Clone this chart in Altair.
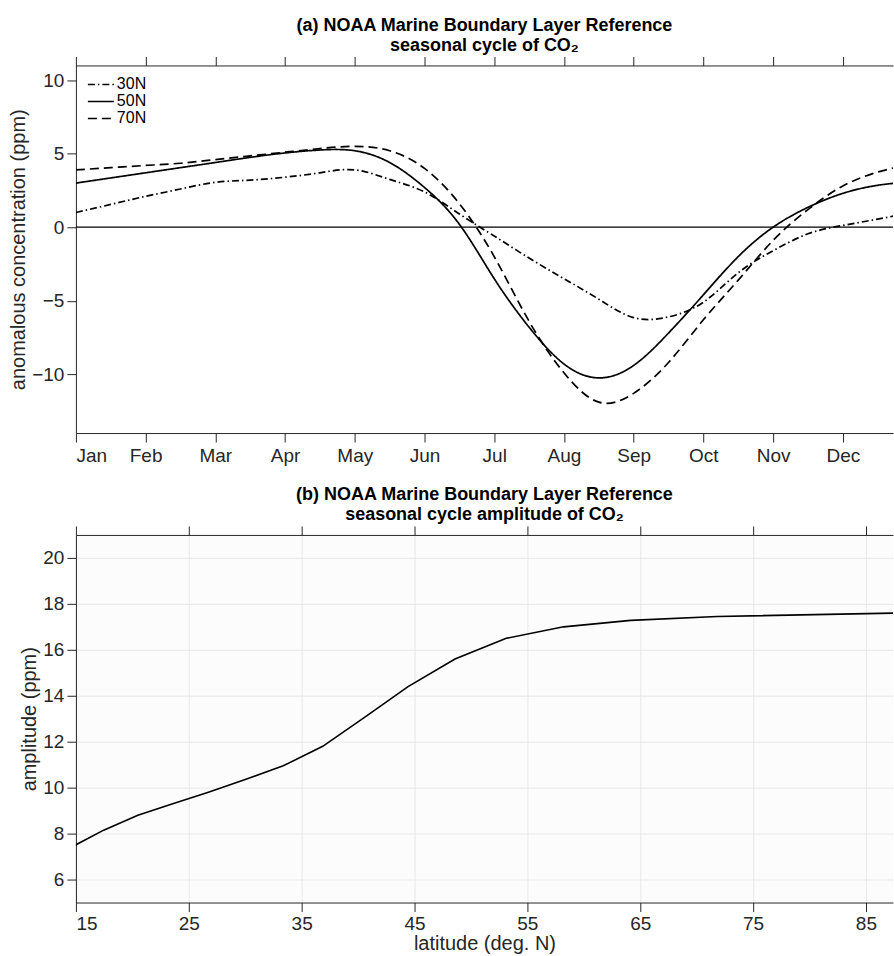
import altair as alt
import pandas as pd

# ---- panel (a): seasonal cycle of CO2 at three latitudes ----
MONTH_LABELS = ["Jan", "Feb", "Mar", "Apr", "May", "Jun",
                "Jul", "Aug", "Sep", "Oct", "Nov", "Dec"]
# position in months since 1 January (half-month steps)
MONTH_POS = [0.0, 0.5, 1.0, 1.5, 2.0, 2.5, 3.0, 3.5, 4.0, 4.5, 5.0, 5.5,
             6.0, 6.5, 7.0, 7.5, 8.0, 8.5, 9.0, 9.5, 10.0, 10.5, 11.0, 11.5, 12.0]
CO2_30N = [1.0, 1.55, 2.1, 2.6, 3.05, 3.2, 3.4, 3.7, 3.9, 3.25, 2.4, 0.9,
           -0.6, -2.1, -3.5, -4.9, -6.15, -6.1, -5.1, -3.1, -1.6, -0.45, 0.12, 0.55, 1.0]
CO2_50N = [3.0, 3.35, 3.7, 4.05, 4.4, 4.75, 5.05, 5.25, 5.2, 4.4, 2.7, 0.2,
           -3.5, -6.8, -9.3, -10.25, -9.4, -7.2, -4.6, -2.0, 0.0, 1.35, 2.3, 2.85, 3.1]
CO2_70N = [3.9, 4.05, 4.2, 4.35, 4.6, 4.85, 5.1, 5.35, 5.5, 5.2, 4.0, 1.6,
           -2.0, -6.4, -9.9, -11.9, -11.3, -9.2, -6.3, -3.6, -0.9, 1.2, 2.8, 3.75, 4.3]
SERIES = ["30N", "50N", "70N"]
DASHES = [[7, 3, 1.5, 3], [1, 0], [9, 5]]
Y_TICKS_A = [-10, -5, 0, 5, 10]

# ---- panel (b): seasonal cycle amplitude against latitude ----
LATITUDE = [14.48, 17.46, 20.49, 23.58, 26.74, 30.0, 33.37, 36.87,
            40.54, 44.43, 48.59, 53.13, 58.21, 64.16, 71.81, 90.0]
AMPLITUDE = [7.38, 8.15, 8.8, 9.3, 9.8, 10.35, 10.95, 11.8,
             13.05, 14.4, 15.6, 16.5, 17.0, 17.28, 17.45, 17.62]
X_TICKS_B = [15, 25, 35, 45, 55, 65, 75, 85]
Y_TICKS_B = [6, 8, 10, 12, 14, 16, 18, 20]

INK = "#262626"
FONT = "Liberation Sans"
W, H = 818, 368

rows = []
for name, vals in zip(SERIES, [CO2_30N, CO2_50N, CO2_70N]):
    for m, v in zip(MONTH_POS, vals):
        rows.append({"month": m, "ppm": v, "series": name})
df_a = pd.DataFrame(rows)
df_b = pd.DataFrame({"lat": LATITUDE, "amp": AMPLITUDE})

month_expr = "[" + ",".join(f"'{m}'" for m in MONTH_LABELS) + "][datum.value]"

x_scale_a = alt.Scale(domain=[0, 11.72], nice=False, zero=False)
y_scale_a = alt.Scale(domain=[-14, 11], nice=False, zero=False)

title_style = dict(fontSize=18, fontWeight="bold", color="black", font=FONT,
                   anchor="middle", lineHeight=20, baseline="bottom", offset=-4, dy=13)

# mirrored top axis: ticks only, no labels and no reserved label space
top_axis_style = dict(orient="top", labels=False, title=None, grid=False,
                      minExtent=0, maxExtent=9)

zero_line = alt.Chart(pd.DataFrame({"ppm": [0]})).mark_rule(
    color="black", strokeWidth=1.2
).encode(y=alt.Y("ppm:Q", scale=y_scale_a))

curves = alt.Chart(df_a).mark_line(
    color="black", strokeWidth=1.7, clip=True, interpolate="natural"
).encode(
    x=alt.X("month:Q", scale=x_scale_a,
            axis=alt.Axis(values=list(range(12)), labelExpr=month_expr, title=None,
                          labelPadding=4)),
    y=alt.Y("ppm:Q", scale=y_scale_a,
            axis=alt.Axis(values=Y_TICKS_A, title="anomalous concentration (ppm)")),
    strokeDash=alt.StrokeDash(
        "series:N",
        scale=alt.Scale(domain=SERIES, range=DASHES),
        legend=alt.Legend(
            orient="none", legendX=17, legendY=11, title=None,
            symbolType="M-2,0H2", symbolSize=169, symbolStrokeWidth=1.5,
            symbolStrokeColor="black", symbolFillColor="transparent",
            labelFontSize=16, labelColor="black", labelFont=FONT,
            labelOffset=8, rowPadding=1, padding=0,
        ),
    ),
    detail="series:N",
)

# invisible carrier for the mirrored top axis (clipped so it adds no extent)
top_a = alt.Chart(df_a).mark_point(opacity=0, clip=True).encode(
    x=alt.X("month:Q", scale=x_scale_a,
            axis=alt.Axis(values=list(range(12)), **top_axis_style))
)

panel_a = alt.layer(zero_line, curves, top_a).resolve_axis(x="independent").properties(
    width=W, height=H,
    title=alt.TitleParams(
        text=["(a) NOAA Marine Boundary Layer Reference", "seasonal cycle of CO\u2082"],
        **title_style),
    view=alt.ViewBackground(fill="white", strokeWidth=0),
)

x_scale_b = alt.Scale(domain=[15, 87.4], nice=False, zero=False)
y_scale_b = alt.Scale(domain=[5, 21], nice=False, zero=False)

amp_line = alt.Chart(df_b).mark_line(color="black", strokeWidth=1.6, clip=True).encode(
    x=alt.X("lat:Q", scale=x_scale_b,
            axis=alt.Axis(values=X_TICKS_B, title="latitude (deg. N)", grid=True,
                          labelPadding=3, titlePadding=0)),
    y=alt.Y("amp:Q", scale=y_scale_b,
            axis=alt.Axis(values=Y_TICKS_B, title="amplitude (ppm)", grid=True)),
)

top_b = alt.Chart(df_b).mark_point(opacity=0, clip=True).encode(
    x=alt.X("lat:Q", scale=x_scale_b, axis=alt.Axis(values=X_TICKS_B, **top_axis_style))
)

panel_b = alt.layer(amp_line, top_b).resolve_axis(x="independent").properties(
    width=W, height=H,
    title=alt.TitleParams(
        text=["(b) NOAA Marine Boundary Layer Reference", "seasonal cycle amplitude of CO\u2082"],
        **title_style),
    view=alt.ViewBackground(fill="#fcfcfc", strokeWidth=0),
)

chart = alt.vconcat(panel_a, panel_b, spacing=102, bounds="flush").properties(
    padding={"left": 8, "top": 16, "right": 0, "bottom": 0},
    background="white",
).configure(font=FONT).configure_axis(
    domainColor=INK, domainWidth=1, tickColor=INK, tickWidth=1, tickSize=9,
    labelColor=INK, labelFont=FONT, labelFontSize=19, labelPadding=3,
    titleColor=INK, titleFont=FONT, titleFontSize=20, titleFontWeight="normal",
    titlePadding=3, gridColor="#e8e8e8", gridWidth=1, grid=False,
)

chart.save("out.html", embed_options={"renderer": "svg", "actions": False})
